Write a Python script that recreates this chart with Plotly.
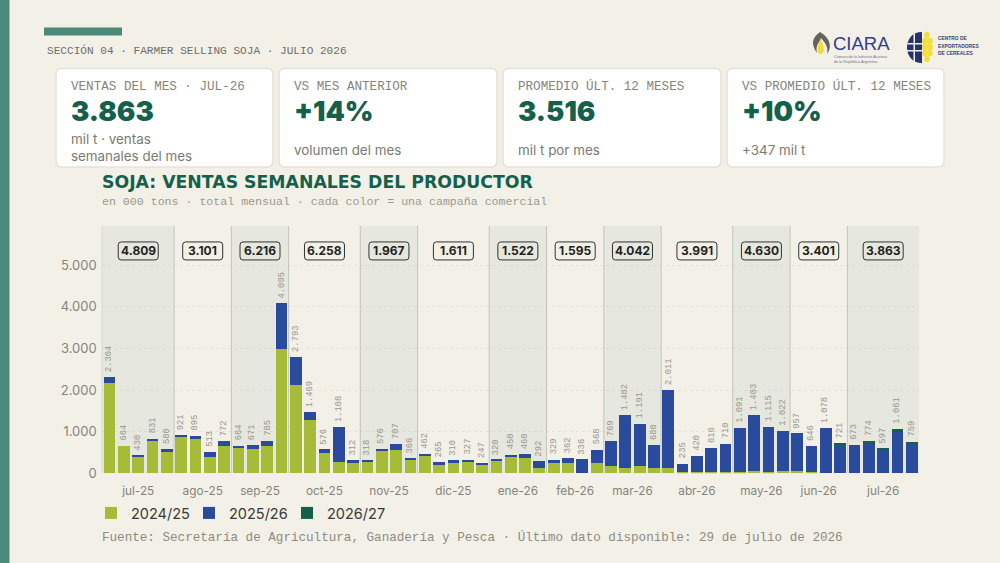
import plotly.graph_objects as go

# ---------- data ----------
months = ["jul-25","ago-25","sep-25","oct-25","nov-25","dic-25","ene-26","feb-26","mar-26","abr-26","may-26","jun-26","jul-26"]
weeks_per_month = [5,4,4,5,4,5,4,4,4,5,4,4,5]
month_totals = ["4.809","3.101","6.216","6.258","1.967","1.611","1.522","1.595","4.042","3.991","4.630","3.401","3.863"]
week_totals = [2304,664,430,831,580, 921,895,513,772, 664,671,785,4095, 2793,1469,576,1108,312,
               318,576,707,366, 462,265,310,327,247, 320,450,460,292, 329,362,336,568,
               769,1402,1191,680, 2011,235,420,616,710, 1091,1403,1115,1022, 957,646,1078,721,
               673,774,597,1061,759]
c2425 = [2160,664,400,776,520, 864,816,384,656, 608,592,656,2992, 2112,1280,480,264,240,
         280,544,560,320, 416,208,256,272,200, 304,400,360,136, 248,256,0,256,
         176,136,176,120, 136,24,24,30,20, 30,50,40,48, 50,30,0,0,
         0,0,0,0,0]
c2526 = [144,0,30,55,60, 57,79,129,116, 56,79,129,1103, 681,189,96,844,72,
         38,32,147,46, 46,57,54,55,47, 16,50,100,156, 81,106,336,312,
         593,1266,1015,560, 1875,211,396,586,690, 1061,1353,1075,974, 907,616,1078,700,
         660,718,575,1015,700]
c2627 = [0]*51 + [21, 13,56,22,46,59]
yticks = [0,1000,2000,3000,4000,5000]
kpi_labels = ["VENTAS DEL MES · JUL-26","VS MES ANTERIOR","PROMEDIO ÚLT. 12 MESES","VS PROMEDIO ÚLT. 12 MESES"]
kpi_values = ["3.863","+14%","3.516","+10%"]
kpi_notes = ["mil t · ventas<br>semanales del mes","volumen del mes","mil t por mes","+347 mil t"]

# ---------- style ----------
W, H = 1000, 563
BG = "#f3f0e8"; GREEN = "#a6bb38"; BLUE = "#2a4a9b"; DARK = "#14604a"; TEAL = "#4a8a78"
MONO = "Liberation Mono"; SANS = "Inter"
X0, X1, Y0, Y1 = 101.7, 919.0, 473.3, 226.0   # plot box in px

def fx(x): return x / W
def fy(y): return 1 - y / H

def rrect(x0, y0, x1, y1, r):
    return (f"M{fx(x0+r)},{fy(y0)} L{fx(x1-r)},{fy(y0)} Q{fx(x1)},{fy(y0)} {fx(x1)},{fy(y0+r)} "
            f"L{fx(x1)},{fy(y1-r)} Q{fx(x1)},{fy(y1)} {fx(x1-r)},{fy(y1)} "
            f"L{fx(x0+r)},{fy(y1)} Q{fx(x0)},{fy(y1)} {fx(x0)},{fy(y1-r)} "
            f"L{fx(x0)},{fy(y0+r)} Q{fx(x0)},{fy(y0)} {fx(x0+r)},{fy(y0)} Z")

def ppath(d, fill):
    return dict(type="path", xref="paper", yref="paper", path=d, fillcolor=fill, line=dict(width=0), layer="above")

def pcircle(x0, y0, x1, y1, fill, line=None, lw=0):
    return dict(type="circle", xref="paper", yref="paper", x0=fx(x0), x1=fx(x1), y0=fy(y0), y1=fy(y1),
                fillcolor=fill, line=dict(width=lw, color=line or fill), layer="above")

def text(x, y, s, size, color, family=SANS, weight=None, anchor="left"):
    f = dict(size=size, color=color, family=family)
    if weight: f["weight"] = weight
    return dict(xref="paper", yref="paper", x=fx(x), y=fy(y), text=s, showarrow=False, xanchor=anchor,
                yanchor="middle", font=f, align="left", borderpad=0)

x = list(range(len(week_totals)))
fig = go.Figure()
for name, vals, col in [("2024/25", c2425, GREEN), ("2025/26", c2526, BLUE), ("2026/27", c2627, DARK)]:
    fig.add_bar(x=x, y=vals, name=name, marker=dict(color=col, line=dict(width=0)))

shapes, annots = [], []
# page furniture
shapes.append(dict(type="rect", xref="paper", yref="paper", x0=0, x1=fx(9.5), y0=0, y1=1, fillcolor=TEAL, line=dict(width=0), layer="below"))
shapes.append(dict(type="rect", xref="paper", yref="paper", x0=fx(44), x1=fx(122), y0=fy(35.5), y1=fy(27.5), fillcolor=TEAL, line=dict(width=0), layer="below"))
annots.append(text(46, 50.5, "SECCIÓN 04 · FARMER SELLING SOJA · JULIO 2026", 11.1, "#6f6e66", MONO))

# KPI cards
cards = [(56,273),(279,497),(503,721),(727,944)]
for (a, b), lab, val, note in zip(cards, kpi_labels, kpi_values, kpi_notes):
    shapes.append(dict(type="path", xref="paper", yref="paper", path=rrect(a, 68.5, b, 167, 6), fillcolor="#ffffff",
                       line=dict(width=1.5, color="#e6e2d6"), layer="below"))
    annots.append(text(a+13.5, 86.5, lab, 12.6, "#85847c", MONO))
    annots.append(text(a+13.5, 111, val, 27.5, DARK, SANS, 900))
    annots.append(text(a+13.5, 147 if "<br>" in note else 149.5, note, 13.4, "#7a7a72"))

# chart title
annots.append(text(100.5, 182.5, "SOJA: VENTAS SEMANALES DEL PRODUCTOR", 17.3, DARK, "DejaVu Sans", 700))
annots.append(text(100.5, 201.5, "en 000 tons · total mensual · cada color = una campaña comercial", 11.6, "#9b9a90", MONO))
annots.append(text(100.5, 537, "Fuente: Secretaría de Agricultura, Ganadería y Pesca · Último dato disponible: 29 de julio de 2026", 12.6, "#8d8c82", MONO))

# month bands
tickv = []
start = 0
for i, (n, tot) in enumerate(zip(weeks_per_month, month_totals)):
    a, b = start - 0.5, start + n - 0.5
    mid = (a + b) / 2
    tickv.append(mid)
    if i % 2 == 0:
        shapes.append(dict(type="rect", xref="x", yref="y domain", x0=a if i else -0.55, x1=b, y0=0, y1=1,
                           fillcolor="#e6e7df", line=dict(width=0), layer="below"))
    shapes.append(dict(type="line", xref="x", yref="y domain", x0=a if i else -0.55, x1=a if i else -0.55, y0=0, y1=1,
                       line=dict(width=1, color="#c3c5bb"), layer="below"))
    # rounded total box, sized in pixels around the month midpoint
    bw, bh, r = 20, 9, 3
    d = (f"M{-bw+r},{bh} L{bw-r},{bh} Q{bw},{bh} {bw},{bh-r} L{bw},{-bh+r} Q{bw},{-bh} {bw-r},{-bh} "
         f"L{-bw+r},{-bh} Q{-bw},{-bh} {-bw},{-bh+r} L{-bw},{bh-r} Q{-bw},{bh} {-bw+r},{bh} Z")
    shapes.append(dict(type="path", xref="x", yref="y", xsizemode="pixel", ysizemode="pixel", xanchor=mid, yanchor=5345,
                       path=d, fillcolor="rgba(0,0,0,0)", line=dict(width=1, color="#2f332f"), layer="above"))
    annots.append(dict(xref="x", yref="y", x=mid, y=5345, text=tot, showarrow=False, xanchor="center", yanchor="middle",
                       font=dict(size=12, color="#1f2421", family=SANS, weight=700)))
    start += n

# rotated week labels
for xi, t in zip(x, week_totals):
    annots.append(dict(xref="x", yref="y", x=xi, y=t, yshift=3, text=f"{t:,}".replace(",", "."), showarrow=False,
                       textangle=-90, xanchor="center", yanchor="bottom",
                       font=dict(size=8.8, color="#98978d", family=MONO)))

# logos (drawn schematically)
shapes.append(ppath(f"M{fx(820)},{fy(32)} C{fx(813)},{fy(37)} {fx(810)},{fy(43)} {fx(817)},{fy(53)} "
                    f"C{fx(815)},{fy(45)} {fx(820)},{fy(42)} {fx(821)},{fy(38)} C{fx(824)},{fy(42)} {fx(829)},{fy(46)} {fx(827)},{fy(54)} "
                    f"C{fx(832)},{fy(48)} {fx(831)},{fy(38)} {fx(820)},{fy(32)} Z", "#66635c"))
shapes.append(ppath(f"M{fx(820.5)},{fy(40)} C{fx(817)},{fy(46)} {fx(816)},{fy(54)} {fx(820.5)},{fy(54)} "
                    f"C{fx(825)},{fy(54)} {fx(825)},{fy(46)} {fx(820.5)},{fy(40)} Z", "#f0dc3c"))
annots.append(text(831.5, 43.5, "CIARA", 18.5, "#2f3f8c", "Liberation Sans"))
annots.append(text(832.5, 57.3, "Cámara de la Industria Aceitera", 3.8, "#6f7080", "Liberation Sans"))
annots.append(text(832.5, 61.8, "de la República Argentina", 3.8, "#6f7080", "Liberation Sans"))
shapes.append(ppath(f"M{fx(922)},{fy(32)} C{fx(902)},{fy(32)} {fx(902)},{fy(63)} {fx(922)},{fy(63)} Z", "#26316f"))
for xa, ya, xb, yb in [(907.5,43,922,44.5),(907,50,922,51.5)]:
    shapes.append(dict(type="rect", xref="paper", yref="paper", x0=fx(xa), x1=fx(xb), y0=fy(yb), y1=fy(ya), fillcolor=BG, line=dict(width=0), layer="above"))
shapes.append(dict(type="rect", xref="paper", yref="paper", x0=fx(913.5), x1=fx(915), y0=fy(62), y1=fy(33), fillcolor=BG, line=dict(width=0), layer="above"))
for (cx, cy) in [(927,35),(925,41),(930,41),(925,47),(930,47),(925,53),(930,53),(927,59)]:
    shapes.append(pcircle(cx-2.8, cy-3.2, cx+2.8, cy+3.2, "#f3e03a"))
for y_, s in [(39,"CENTRO DE"),(46.5,"EXPORTADORES"),(54,"DE CEREALES")]:
    annots.append(text(937, y_, s, 4.9, "#3b4470", "Liberation Sans", 700))

fig.update_layout(
    width=W, height=H, autosize=False, barmode="stack", bargap=0.18, separators=",.",
    paper_bgcolor=BG, plot_bgcolor="rgba(0,0,0,0)", margin=dict(l=0, r=0, t=0, b=0, autoexpand=False),
    font=dict(family=SANS, color="#8a8a82"),
    xaxis=dict(domain=[X0/W, X1/W], range=[-0.55, 56.5], tickmode="array", tickvals=tickv, ticktext=months,
               showgrid=False, zeroline=False, showline=False, ticks="", ticklabelstandoff=9,
               tickfont=dict(size=11.8, color="#85857d", family=SANS)),
    yaxis=dict(domain=[1-Y0/H, 1-Y1/H], range=[0, (Y0-Y1)/41.6*1000], tickmode="array", tickvals=yticks,
               tickformat=",d", showgrid=True, griddash="dot", gridcolor="rgba(150,150,135,0.14)", gridwidth=1,
               zeroline=False, showline=False, ticks="", ticklabelstandoff=4,
               tickfont=dict(size=13, color="#85857d", family=SANS)),
    legend=dict(orientation="h", x=fx(91), y=fy(513), xanchor="left", yanchor="middle", traceorder="normal",
                font=dict(size=14.5, color="#3a3a36", family=SANS), bgcolor="rgba(0,0,0,0)",
                entrywidth=53, entrywidthmode="pixels", itemclick=False, itemdoubleclick=False),
    shapes=shapes, annotations=annots, showlegend=True,
)
fig.write_html("out.html", config={"displayModeBar": False},
               post_script="document.body.style.margin='0';document.documentElement.style.overflow='hidden';")
